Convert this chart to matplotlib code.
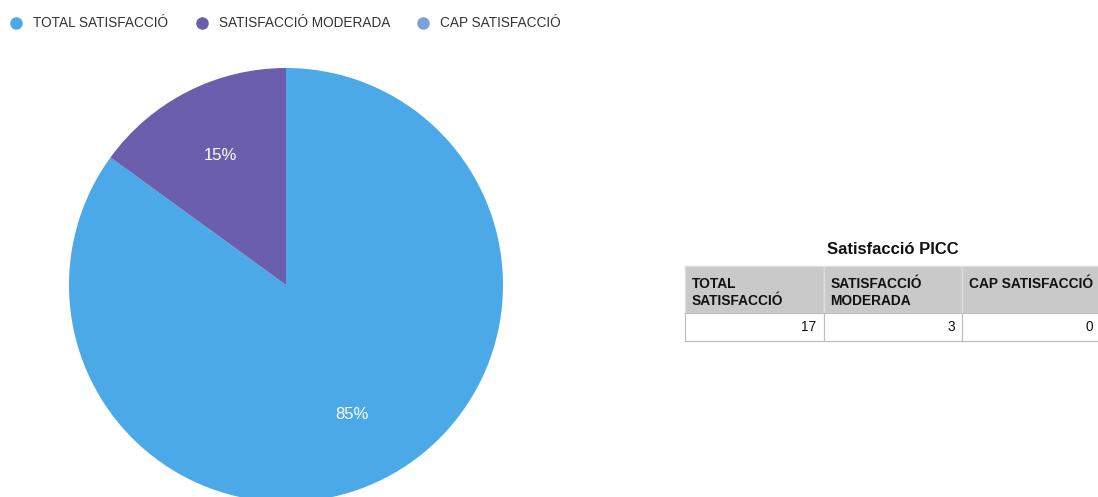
import matplotlib
matplotlib.use("Agg")
import matplotlib.pyplot as plt
from matplotlib.patches import Rectangle
from matplotlib.lines import Line2D

plt.rcParams["font.family"] = ["Liberation Sans", "DejaVu Sans"]

# ---------------------------------------------------------------------------
# Data
# ---------------------------------------------------------------------------
categories = ["TOTAL SATISFACCIÓ", "SATISFACCIÓ MODERADA", "CAP SATISFACCIÓ"]
header_labels = ["TOTAL\nSATISFACCIÓ", "SATISFACCIÓ\nMODERADA", "CAP SATISFACCIÓ"]
counts = [17, 3, 0]
colors = ["#4CA9E7", "#6B5FAD", "#7AA1D5"]
table_title = "Satisfacció PICC"

W, H = 1098, 497
fig = plt.figure(figsize=(W / 100, H / 100), dpi=100)
fig.patch.set_facecolor("white")


def px_axes(x0, y0, x1, y1):
    """Axes from pixel box (top-left origin)."""
    return fig.add_axes([x0 / W, 1 - y1 / H, (x1 - x0) / W, (y1 - y0) / H])


# ---------------------------------------------------------------------------
# Pie
# ---------------------------------------------------------------------------
ax_pie = px_axes(69, 68, 503, 502)
ax_pie.pie(
    counts,
    colors=colors,
    startangle=90,
    counterclock=False,
    autopct=lambda p: f"{p:.0f}%" if p > 0 else "",
    pctdistance=0.67,
    textprops={"color": "white", "fontsize": 12},
    wedgeprops={"linewidth": 0},
)
ax_pie.set_xlim(-1, 1)
ax_pie.set_ylim(-1, 1)
ax_pie.set_aspect("equal")
ax_pie.axis("off")

# ---------------------------------------------------------------------------
# Legend
# ---------------------------------------------------------------------------
handles = [
    Line2D([], [], marker="o", linestyle="none", markersize=9,
           markerfacecolor=c, markeredgewidth=0)
    for c in colors
]
fig.legend(
    handles, categories, loc="upper left",
    bbox_to_anchor=(4 / W, 1 - 11 / H),
    ncol=3, frameon=False, fontsize=9.8, handlelength=1.0,
    handletextpad=0.75, columnspacing=1.95, borderaxespad=0.0,
    borderpad=0.4, labelcolor="#333333",
)

# ---------------------------------------------------------------------------
# Table
# ---------------------------------------------------------------------------
tx0, ty0 = 685, 266
col_w = 138.5
head_h, row_h = 47, 28
ax_tab = px_axes(tx0, ty0, tx0 + col_w * 3, ty0 + head_h + row_h)
ax_tab.set_xlim(0, col_w * 3)
ax_tab.set_ylim(head_h + row_h, 0)
ax_tab.axis("off")

for i, (lab, val) in enumerate(zip(header_labels, counts)):
    x = i * col_w
    ax_tab.add_patch(Rectangle((x, 0), col_w, head_h, facecolor="#C9C9C9",
                               edgecolor="#DDDDDD", linewidth=1, clip_on=False))
    ax_tab.add_patch(Rectangle((x, head_h), col_w, row_h, facecolor="white",
                               edgecolor="#BBBBBB", linewidth=0.8, clip_on=False))
    ax_tab.text(x + 7, 11, lab, ha="left", va="top", fontsize=9.9,
                fontweight="bold", color="#111111", linespacing=1.25)
    ax_tab.text(x + col_w - 7, head_h + row_h / 2, str(val), ha="right",
                va="center", fontsize=9.8, color="#111111")

fig.text((tx0 + col_w * 1.5) / W, 1 - 250 / H, table_title, ha="center",
         va="center", fontsize=12, fontweight="bold", color="#111111")

fig.savefig("out.png", dpi=100)
